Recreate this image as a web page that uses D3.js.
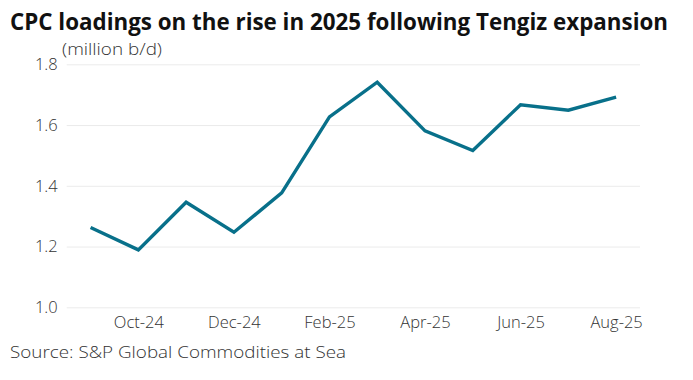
<!DOCTYPE html>
<html><head><meta charset="utf-8">
<script src="https://cdn.jsdelivr.net/npm/d3@7"></script>
<style>
body{margin:0;background:#fff;}
text{font-family:"Open Sans",Roboto,sans-serif;}
</style></head>
<body><svg id="c" width="693" height="380"></svg>
<script>
const months = ["Sep-24","Oct-24","Nov-24","Dec-24","Jan-25","Feb-25","Mar-25","Apr-25","May-25","Jun-25","Jul-25","Aug-25"];
const loadings = [1.263,1.189,1.346,1.247,1.377,1.627,1.741,1.581,1.516,1.667,1.649,1.692];
const yTicks = [1.0,1.2,1.4,1.6,1.8];
const xTickLabels = ["Oct-24","Dec-24","Feb-25","Apr-25","Jun-25","Aug-25"];

(function(){
const svg = d3.select("#c");
const mLeft = 66.7, mRight = 640, mTop = 64.3, mBottom = 307.3;
const x = d3.scalePoint().domain(months).range([mLeft, mRight]).padding(0.5);
const y = d3.scaleLinear().domain([1.0, 1.8]).range([mBottom, mTop]);
const light = "\"Open Sans\",Roboto,sans-serif";

const title = svg.append("text").attr("x", 10).attr("y", 30)
  .attr("font-size", 24).attr("font-weight", 700).attr("fill", "#111")
  .attr("font-family", "Roboto,sans-serif")
  .text("CPC loadings on the rise in 2025 following Tengiz expansion");
let fs = 24;
const natural = title.node().getComputedTextLength();
if (natural > 670) { fs = 24 * 670 / natural; title.attr("font-size", fs); }
title.attr("textLength", 658).attr("lengthAdjust", "spacingAndGlyphs");

svg.append("text").attr("x", 62).attr("y", 55)
  .attr("font-size", 16).attr("font-weight", 300).attr("fill", "#333")
  .attr("font-family", light)
  .attr("textLength", 100).attr("lengthAdjust", "spacingAndGlyphs")
  .text("(million b/d)");

const yAxis = d3.axisLeft(y).tickValues(yTicks).tickFormat(d3.format(".1f"))
  .tickSize(-(mRight - mLeft)).tickPadding(9);
const gy = svg.append("g").attr("transform", `translate(${mLeft},0)`).call(yAxis);
gy.select(".domain").remove();
gy.selectAll(".tick line").attr("stroke", "#ebebeb").attr("stroke-width", 1);
gy.selectAll(".tick text").attr("font-size", 16.5).attr("font-weight", 300)
  .attr("fill", "#333").attr("font-family", light);

const xAxis = d3.axisBottom(x).tickValues(xTickLabels).tickSize(0).tickPadding(9);
const gx = svg.append("g").attr("transform", `translate(0,${mBottom})`).call(xAxis);
gx.select(".domain").remove();
gx.selectAll(".tick text").attr("font-size", 16.5).attr("font-weight", 300)
  .attr("fill", "#333").attr("font-family", light);

const line = d3.line().x((d, i) => x(months[i])).y(d => y(d));
svg.append("path").datum(loadings).attr("d", line)
  .attr("fill", "none").attr("stroke", "#08708a").attr("stroke-width", 3.4)
  .attr("stroke-linejoin", "miter");

svg.append("text").attr("x", 10).attr("y", 358)
  .attr("font-size", 16.5).attr("font-weight", 300).attr("fill", "#333")
  .attr("font-family", light)
  .attr("textLength", 336).attr("lengthAdjust", "spacingAndGlyphs")
  .text("Source: S&P Global Commodities at Sea");
})();
</script></body></html>
